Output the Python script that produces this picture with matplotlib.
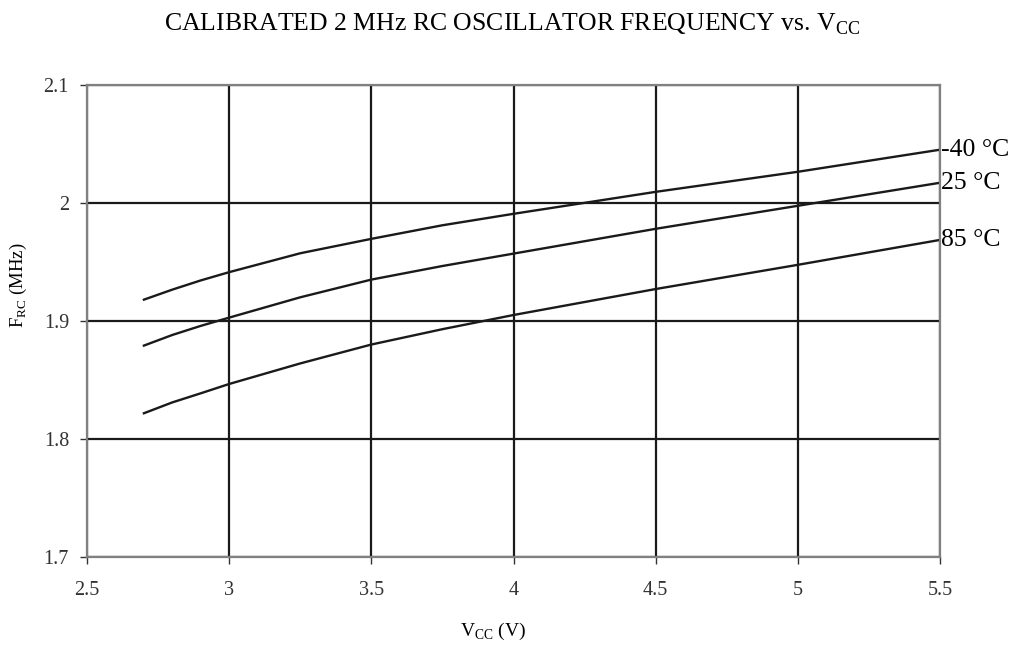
import matplotlib
matplotlib.use("Agg")
import matplotlib.pyplot as plt

plt.rcParams['font.family'] = ['Liberation Serif', 'DejaVu Serif']
plt.rcParams['mathtext.fontset'] = 'custom'
plt.rcParams['mathtext.rm'] = 'Liberation Serif'

vcc = [2.7, 2.8, 2.9, 3.0, 3.25, 3.5, 3.75, 4.0, 4.5, 5.0, 5.5]
f_m40 = [1.918, 1.9265, 1.9343, 1.9413, 1.9573, 1.9695, 1.981, 1.9907, 2.0093, 2.0263, 2.045]
f_25 = [1.8791, 1.8881, 1.8958, 1.9028, 1.920, 1.935, 1.9465, 1.957, 1.978, 1.9975, 2.017]
f_85 = [1.8218, 1.831, 1.8387, 1.8466, 1.864, 1.880, 1.893, 1.905, 1.927, 1.9475, 1.9686]
labels = ['-40 °C', '25 °C', '85 °C']

fig = plt.figure(figsize=(10.24, 6.47), dpi=100)
ax = fig.add_axes([0.085, 0.139, 0.833, 0.730])

for ys in (f_m40, f_25, f_85):
    ax.plot(vcc, ys, color='#1a1a1a', lw=1.7)

for ys, lab in zip((f_m40, f_25, f_85), labels):
    ax.annotate(lab, xy=(vcc[-1], ys[-1]), xytext=(1, 0), textcoords='offset points',
                ha='left', va='center', fontsize=18.5, annotation_clip=False)

ax.set_xlim(2.5, 5.5)
ax.set_ylim(1.7, 2.1)
ax.set_xticks([2.5, 3, 3.5, 4, 4.5, 5, 5.5])
ax.set_xticklabels(['2.5', '3', '3.5', '4', '4.5', '5', '5.5'])
ax.set_yticks([1.7, 1.8, 1.9, 2.0, 2.1])
ax.set_yticklabels(['1.7', '1.8', '1.9', '2', '2.1'])
ax.grid(True, color='#1a1a1a', lw=1.6)
ax.set_axisbelow(True)
for s in ax.spines.values():
    s.set_color('#808080')
    s.set_linewidth(1.6)
ax.tick_params(direction='out', length=5, width=1, colors='#333333', labelsize=14.5, pad=12)
ax.tick_params(axis='y', pad=8)

ax.set_xlabel(r'V$_{\mathregular{CC}}$ (V)', fontsize=14, labelpad=14)
ax.set_ylabel(r'F$_{\mathregular{RC}}$ (MHz)', fontsize=13.5)
ax.xaxis.set_label_coords(0.476, -0.135)
ax.yaxis.set_label_coords(-0.068, 0.575)
fig.suptitle(r'CALIBRATED 2 MHz RC OSCILLATOR FREQUENCY vs. V$_{\mathregular{CC}}$',
             fontsize=18.5, y=0.982)

fig.savefig('out.png', dpi=100)
